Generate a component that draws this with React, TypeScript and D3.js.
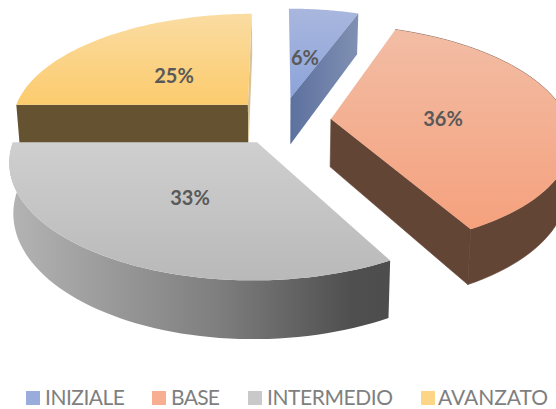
import React from "react";
import * as d3 from "d3";

// ---- data ----
const categories = ["INIZIALE", "BASE", "INTERMEDIO", "AVANZATO"];
const shares = [5.6, 36.4, 33, 25];
const labels = ["6%", "36%", "33%", "25%"];

// ---- style / layout ----
const W = 556, H = 409;
const topColors = [["#A9B7DE", "#8CA3DA"], ["#F2BDA5", "#F5A17D"], ["#CFCFCF", "#B9B9B9"], ["#FADCA2", "#FCCB6D"]];
const swatches = ["#9AACDC", "#F8AE90", "#C9C9C9", "#FDD586"];
// where each exploded slice's apex sits on the tilted disc plane
const apexU = [0.0545, 0.224, -0.086, -0.13];
const apexZ = [6.716, 6.517, 6.31, 6.65];
const labelAt: [number, number][] = [[305, 57], [443, 118], [190, 197], [174, 75]];
const legendSwatchX = [26, 152, 248, 421];
const legendTextX = [45, 171, 267, 438];
const legendTextW = [80, 49, 126, 110];

// perspective camera for the tilted disc
const cam = { xv: 278, yh: -591, f: 1540, h: 4627, depth: 312, shrink: 0.015 };
type P = [number, number];
const project = (u: number, z: number, lvl: number): P => [
  cam.xv + (cam.f * u / z) * (1 - lvl * cam.shrink),
  cam.yh + cam.h / z + (lvl * cam.depth) / z,
];

const pie = d3.pie<number>().sort(null).value((d) => d);
const arcs = pie(shares);
const line = d3.line<P>();

function geom(i: number) {
  const a = arcs[i];
  const at = (t: number, r: number, lvl: number) =>
    project(apexU[i] + r * Math.sin(t), apexZ[i] + r * Math.cos(t), lvl);
  const ts = d3.range(0, 61).map((k) => a.startAngle + ((a.endAngle - a.startAngle) * k) / 60);
  const rim = (lvl: number) => ts.map((t) => at(t, 1, lvl));
  return { a, at, rim };
}

function Slice({ i }: { i: number }) {
  const g = geom(i);
  const apex = g.at(0, 0, 0);
  const apexB = g.at(0, 0, 1);
  const top = line([apex, ...g.rim(0)]) + "Z";
  const s0 = g.at(g.a.startAngle, 1, 0), s0b = g.at(g.a.startAngle, 1, 1);
  const e0 = g.at(g.a.endAngle, 1, 0), e0b = g.at(g.a.endAngle, 1, 1);
  const startWall = line([apex, s0, s0b, apexB]) + "Z";
  const endWall = line([apex, e0, e0b, apexB]) + "Z";
  const rimWall = line([...g.rim(0), ...g.rim(1).reverse()]) + "Z";
  return (
    <g>
      {i === 1 && <path d={endWall} fill="#634536" stroke="#634536" strokeWidth={0.6} />}
      {i === 1 && <path d={rimWall} fill="#634536" stroke="#634536" strokeWidth={0.6} />}
      {i === 2 && <path d={rimWall} fill="url(#wallGray)" />}
      {i === 3 && <path d={startWall} fill="#655230" />}
      {i === 3 && <path d={endWall} fill="#D8C396" />}
      <path d={top} fill={`url(#top${i})`} />
      {i === 0 && <path d={endWall} fill="url(#wallBlue)" />}
    </g>
  );
}

export default function App() {
  const font = "Lato, 'Open Sans', sans-serif";
  return (
    <svg width={W} height={H} viewBox={`0 0 ${W} ${H}`} style={{ position: "absolute", left: 0, top: 0, background: "#fff", display: "block" }}>
      <defs>
        {topColors.map((c, i) => (
          <linearGradient key={i} id={`top${i}`} x1="0" y1="0" x2="0" y2="1">
            <stop offset="0" stopColor={c[0]} />
            <stop offset="1" stopColor={c[1]} />
          </linearGradient>
        ))}
        <linearGradient id="wallBlue" x1="0" y1="0" x2="1" y2="0">
          <stop offset="0" stopColor="#5D719F" />
          <stop offset="1" stopColor="#8090B3" />
        </linearGradient>
        <linearGradient id="wallGray" x1="0" y1="0" x2="1" y2="0">
          <stop offset="0" stopColor="#B4B4B4" />
          <stop offset="0.55" stopColor="#7E7E7E" />
          <stop offset="0.9" stopColor="#4F4F4F" />
          <stop offset="1" stopColor="#4D4D4D" />
        </linearGradient>
      </defs>
      {[3, 1, 2, 0].map((i) => <Slice key={i} i={i} />)}
      {labels.map((t, i) => (
        <text key={t} x={labelAt[i][0]} y={labelAt[i][1]} textAnchor="middle" dominantBaseline="central"
          fontFamily={font} fontWeight={700} fontSize={20} fill="#595959">{t}</text>
      ))}
      {categories.map((c, i) => (
        <g key={c}>
          <rect x={legendSwatchX[i]} y={391} width={14} height={14} fill={swatches[i]} />
          <text x={legendTextX[i]} y={405} fontFamily={font} fontSize={21} fill="#7F7F7F"
            textLength={legendTextW[i]} lengthAdjust="spacing">{c}</text>
        </g>
      ))}
    </svg>
  );
}
